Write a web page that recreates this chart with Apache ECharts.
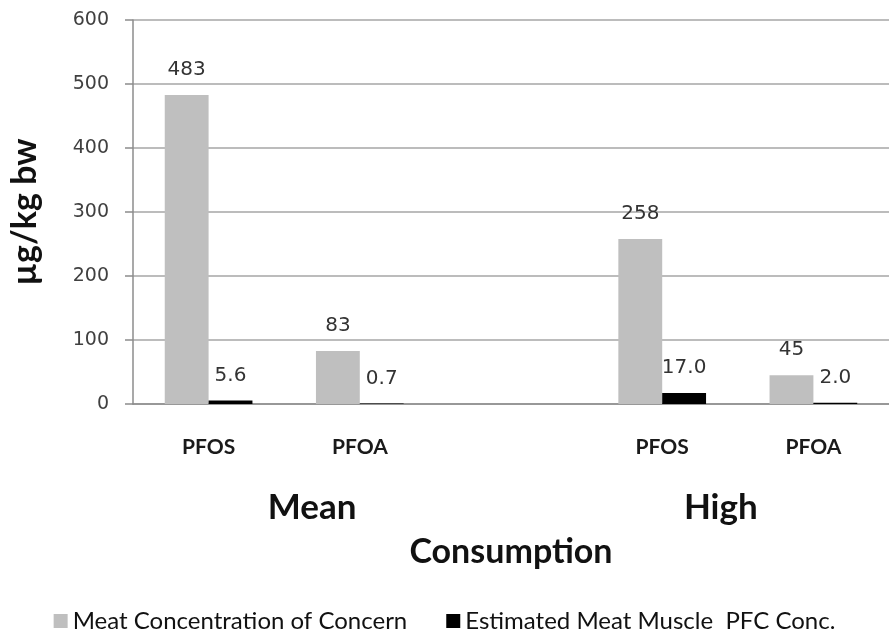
<!DOCTYPE html>
<html><head><meta charset="utf-8">
<script src="https://cdn.jsdelivr.net/npm/echarts@6/dist/echarts.min.js"></script>
<style>html,body{margin:0;padding:0;background:#fff}#c{width:889px;height:634px}</style>
</head><body><div id="c"></div>
<script>
const categories = ['PFOS', 'PFOA', '', 'PFOS', 'PFOA'];
const concernValues = [483, 83, null, 258, 45];
const concernLabels = ['483', '83', '', '258', '45'];
const muscleValues = [5.6, 0.7, null, 17.0, 2.0];
const muscleLabels = ['5.6', '0.7', '', '17.0', '2.0'];
const groupNames = ['Mean', 'High'];
const yTicks = [0, 100, 200, 300, 400, 500, 600];

const FONT = 'Lato, "Open Sans", sans-serif';
const NUMFONT = '"DejaVu Sans", Verdana, sans-serif';
const chart = echarts.init(document.getElementById('c'), null, {renderer: 'canvas'});
const option = {
  animation: false,
  textStyle: {fontFamily: FONT},
  grid: {left: 133, right: 0, top: 20, bottom: 230, containLabel: false},
  legend: {
    top: 604, left: 'center', itemWidth: 14, itemHeight: 14, itemGap: 39,
    icon: 'rect',
    textStyle: {fontFamily: FONT, fontSize: 24, color: '#111'},
    data: ['Meat Concentration of Concern', 'Estimated Meat Muscle  PFC Conc.']
  },
  xAxis: {
    type: 'category', data: categories,
    axisLine: {lineStyle: {color: '#8c8c8c', width: 1.5}},
    axisTick: {show: false},
    axisLabel: {fontFamily: FONT, fontSize: 21, color: '#1a1a1a', margin: 33, fontWeight: 'bold'},
    name: 'Consumption', nameLocation: 'middle', nameGap: 131,
    nameTextStyle: {fontFamily: FONT, fontSize: 34, fontWeight: 'bold', color: '#111'}
  },
  yAxis: {
    type: 'value', min: yTicks[0], max: yTicks[yTicks.length - 1], interval: 100,
    axisLine: {show: true, lineStyle: {color: '#8c8c8c', width: 1.5}},
    axisTick: {show: true, length: 8, lineStyle: {color: '#8c8c8c', width: 1.5}},
    splitLine: {lineStyle: {color: '#a6a6a6', width: 1.5}},
    axisLabel: {fontFamily: NUMFONT, fontSize: 19, color: '#404040', margin: 24},
    name: 'µg/kg bw', nameLocation: 'middle', nameGap: 91, nameRotate: 90,
    nameTextStyle: {fontFamily: FONT, fontSize: 34, fontWeight: 'bold', color: '#111'}
  },
  series: [
    {
      name: 'Meat Concentration of Concern', type: 'bar', data: concernValues,
      itemStyle: {color: '#bfbfbf'}, barGap: '0%', barCategoryGap: '42%',
      label: {show: true, position: 'top', distance: 15, fontFamily: NUMFONT, fontSize: 20, color: '#333',
        formatter: p => concernLabels[p.dataIndex]}
    },
    {
      name: 'Estimated Meat Muscle  PFC Conc.', type: 'bar', data: muscleValues,
      itemStyle: {color: '#000'}, barGap: '0%', barCategoryGap: '42%',
      label: {show: true, position: 'top', distance: 15, fontFamily: NUMFONT, fontSize: 20, color: '#333',
        formatter: p => muscleLabels[p.dataIndex]}
    }
  ]
};
chart.setOption(option);
// group labels under each PFOS/PFOA pair
const gx = [
  (chart.convertToPixel({xAxisIndex: 0}, 0) + chart.convertToPixel({xAxisIndex: 0}, 1)) / 2 + 28,
  (chart.convertToPixel({xAxisIndex: 0}, 3) + chart.convertToPixel({xAxisIndex: 0}, 4)) / 2 - 17
];
chart.setOption({
  graphic: groupNames.map((n, i) => ({
    type: 'text', x: gx[i], y: 508,
    style: {text: n, font: 'bold 35px ' + FONT, fill: '#111', textAlign: 'center', textVerticalAlign: 'middle'}
  }))
});
</script></body></html>
